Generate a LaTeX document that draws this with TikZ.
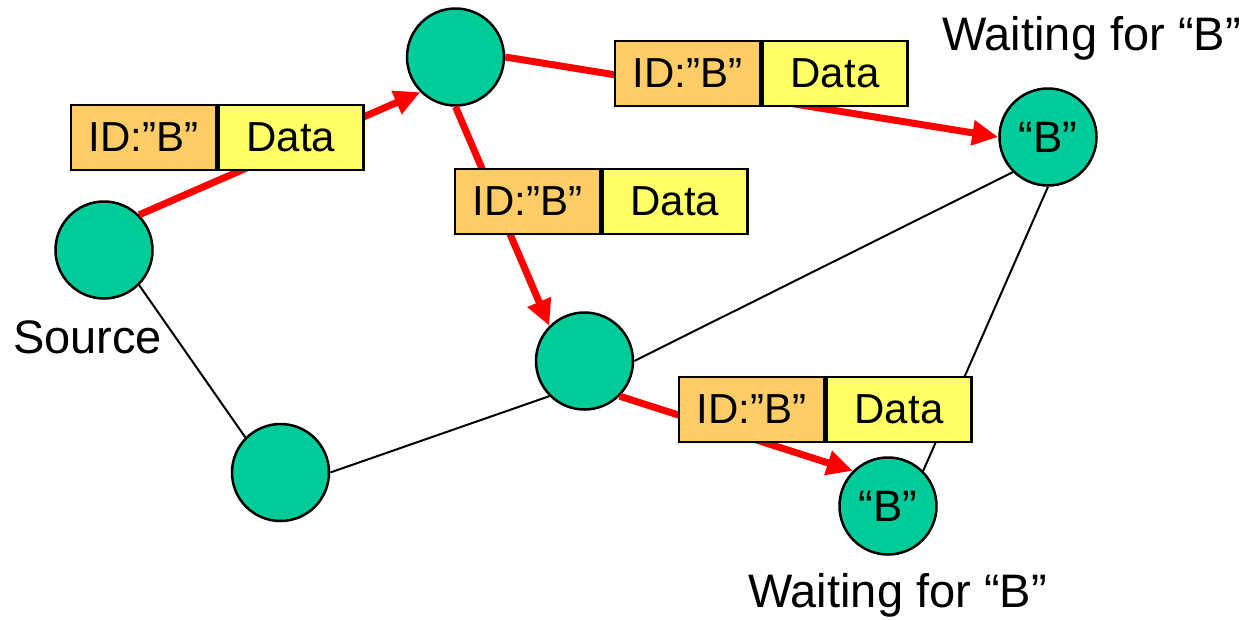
\documentclass[tikz,border=0pt]{standalone}
\usepackage{fontspec}
\setmainfont{Liberation Sans}
\usetikzlibrary{arrows.meta}
\definecolor{nodegreen}{RGB}{0,204,153}
\definecolor{idorange}{RGB}{255,204,102}
\definecolor{datayellow}{RGB}{255,255,102}
\begin{document}
\begin{tikzpicture}[x=1pt,y=-1pt,
  router/.style={circle,draw=black,line width=2.5pt,fill=nodegreen,minimum size=97pt,inner sep=0pt,font=\fontsize{44}{44}\selectfont},
  idbox/.style={rectangle,draw=black,line width=2.5pt,fill=idorange,minimum width=145pt,minimum height=65pt,inner sep=0pt,font=\fontsize{42}{42}\selectfont},
  databox/.style={idbox,fill=datayellow,anchor=west},
  flow/.style={draw=red,line width=7pt,-{Triangle[length=26pt,width=24pt]}},
  link/.style={draw=black,line width=2pt},
  caption/.style={anchor=base west,inner sep=0pt,font=\fontsize{47}{47}\selectfont}]
\useasboundingbox (0,0) rectangle (1243,619);

% routers
\node[router] (src) at (104,250) {};
\node[router] (top) at (455.5,57) {};
\node[router] (mid) at (584.5,361) {};
\node[router] (bl)  at (280.5,472.5) {};
\node[router] (rb)  at (1048,137) {``B''};
\node[router] (bb)  at (888,506) {``B''};

% plain links, attached at the circles' connection points
\draw[link] (src.315) -- (bl.135);
\draw[link] (bl.east) -- (mid.225);
\draw[link] (mid.east) -- (rb.225);
\draw[link] (rb.south) -- (bb.45);

% forwarding paths
\draw[flow] (src.45) -- (top.225);
\draw[flow] (top.east) -- (rb.west);
\draw[flow] (top.south) -- (mid.135);
\draw[flow] (mid.315) -- (bb.135);

% packets
\node[idbox] (p1id) at (143.5,137.5) {ID:”B”};
\node[databox] (p1data) at (p1id.east) {Data};
\node[idbox] (p2id) at (687.5,73.5) {ID:”B”};
\node[databox] (p2data) at (p2id.east) {Data};
\node[idbox] (p3id) at (527.5,201.5) {ID:”B”};
\node[databox] (p3data) at (p3id.east) {Data};
\node[idbox] (p4id) at (751.5,409.5) {ID:”B”};
\node[databox] (p4data) at (p4id.east) {Data};

% captions
\node[caption] (srclabel) at (13,353) {Source};
\node[caption] (waittop) at (942,50) {Waiting for “B”};
\node[caption] (waitbot) at (748,607) {Waiting for “B”};
\end{tikzpicture}
\end{document}
